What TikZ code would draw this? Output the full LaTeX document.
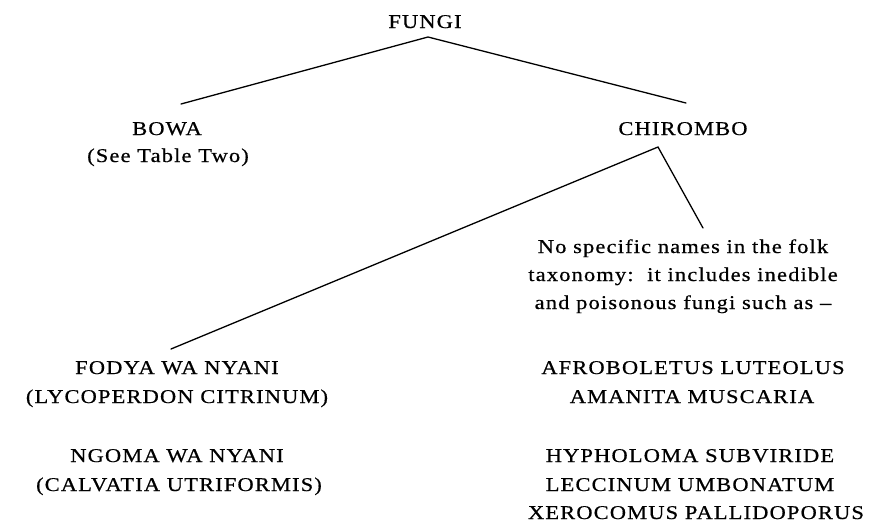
\documentclass[tikz,border=0pt]{standalone}
\usepackage{fontspec}
\setmainfont[FakeStretch=1.15,LetterSpace=6,FakeBold=0.6]{Liberation Serif}
\tikzset{
  lbl/.style={anchor=base, inner sep=0pt, font=\fontsize{19.5}{24}\selectfont},
  branch/.style={line width=1.3pt, line cap=round}
}
\begin{document}
\begin{tikzpicture}[x=1pt,y=-1pt]
\useasboundingbox (0,0) rectangle (871,523);
% labels
\node[lbl] (fungi) at (425,28) {FUNGI};
\node[lbl] (bowa) at (167,135) {BOWA};
\node[lbl] (bowasee) at (168,162) {(See Table Two)};
\node[lbl] (chirombo) at (683,135) {CHIROMBO};
\node[lbl] (p1) at (683,253) {No specific names in the folk};
\node[lbl] (p2) at (683,281) {taxonomy:\ \ it includes inedible};
\node[lbl] (p3) at (683,309) {and poisonous fungi such as –};
\node[lbl] (fodya) at (177,374) {FODYA WA NYANI};
\node[lbl] (lyco) at (177,403) {(LYCOPERDON CITRINUM)};
\node[lbl] (ngoma) at (177,462) {NGOMA WA NYANI};
\node[lbl] (calv) at (179,491) {(CALVATIA UTRIFORMIS)};
\node[lbl] (afro) at (693,374) {AFROBOLETUS LUTEOLUS};
\node[lbl] (aman) at (692,403) {AMANITA MUSCARIA};
\node[lbl] (hyph) at (690,462) {HYPHOLOMA SUBVIRIDE};
\node[lbl] (lecc) at (690,491) {LECCINUM UMBONATUM};
\node[lbl] (xero) at (696,519) {XEROCOMUS PALLIDOPORUS};
% connector points
\coordinate (fapex) at (428,37);
\coordinate (bowaend) at (181,104);
\coordinate (chiroend) at (686,103);
\coordinate (capex) at (658,147);
\coordinate (leftend) at (171,349);
\coordinate (rightend) at (703,228);
\draw[branch] (bowaend) -- (fapex) -- (chiroend);
\draw[branch] (leftend) -- (capex) -- (rightend);
\end{tikzpicture}
\end{document}
